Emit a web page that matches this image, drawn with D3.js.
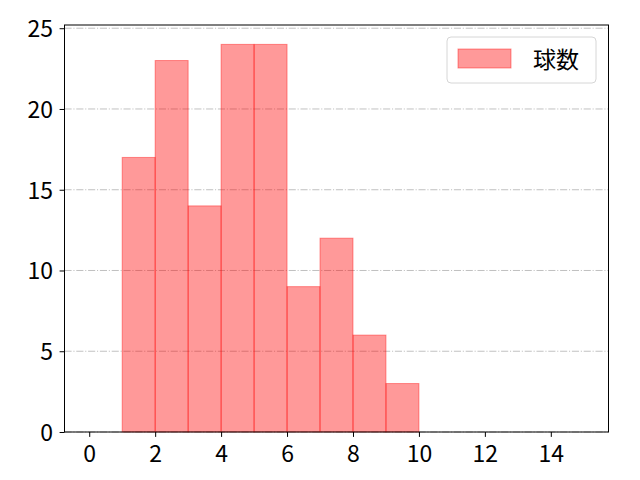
<!DOCTYPE html>
<html><head><meta charset="utf-8">
<script src="https://cdn.jsdelivr.net/npm/d3@7"></script>
<style>body{margin:0;background:#fff}svg{display:block}text{font-family:"Noto Sans CJK JP","DejaVu Sans",sans-serif}</style>
</head><body><svg id="c" width="640" height="480"></svg>
<script>
const binStarts = [0,1,2,3,4,5,6,7,8,9,10,11,12,13,14];
const counts    = [0,17,23,14,24,24,9,12,6,3,0,0,0,0,0];
const xTicks = [0,2,4,6,8,10,12,14];
const yTicks = [0,5,10,15,20,25];
const seriesName = "球数";

const svg = d3.select("#c");
const L=64.5,R=608.5,T=25,B=432;
const x = d3.scaleLinear().domain([-0.75,15.75]).range([L,R]);
const y = d3.scaleLinear().domain([0,25.2]).range([B,T]);

// grid
svg.append("g").selectAll("line").data(yTicks).join("line")
  .attr("x1",L).attr("x2",R).attr("y1",d=>y(d)).attr("y2",d=>y(d))
  .attr("stroke","#b0b0b0").attr("stroke-width",0.8)
  .attr("stroke-dasharray","7.1,1.8,1.1,1.8");

// bars
svg.append("g").selectAll("rect").data(binStarts.map((s,i)=>({s,c:counts[i]}))).join("rect")
  .attr("x",d=>x(d.s)).attr("width",d=>x(d.s+1)-x(d.s))
  .attr("y",d=>y(d.c)).attr("height",d=>y(0)-y(d.c))
  .attr("fill","rgba(255,0,0,0.4)").attr("stroke","rgba(255,0,0,0.4)").attr("stroke-width",1);

// axes
const xa = svg.append("g").attr("transform",`translate(0,${B})`)
  .call(d3.axisBottom(x).tickValues(xTicks).tickSize(4.9).tickPadding(5).tickSizeOuter(0));
const ya = svg.append("g").attr("transform",`translate(${L},0)`)
  .call(d3.axisLeft(y).tickValues(yTicks).tickSize(4.9).tickPadding(6.5).tickSizeOuter(0));
[xa,ya].forEach(a=>{a.select(".domain").remove();a.selectAll("line").attr("stroke","#000").attr("stroke-width",1);
  a.selectAll("text").attr("font-size",23).attr("fill","#000").attr("font-family",null);});
xa.selectAll("text").attr("dy","0.88em");
ya.selectAll("text").attr("dy","0.36em");
svg.append("rect").attr("x",L).attr("y",T).attr("width",R-L).attr("height",B-T)
  .attr("fill","none").attr("stroke","#000").attr("stroke-width",1);

// legend
const lg = svg.append("g");
lg.append("rect").attr("x",447).attr("y",37).attr("width",149).attr("height",46).attr("rx",4)
  .attr("fill","rgba(255,255,255,0.8)").attr("stroke","#d6d6d6").attr("stroke-width",1);
lg.append("rect").attr("x",458).attr("y",49).attr("width",53).attr("height",19)
  .attr("fill","rgba(255,0,0,0.4)").attr("stroke","rgba(255,0,0,0.4)").attr("stroke-width",1);
lg.append("text").attr("x",533).attr("y",67.5).attr("font-size",23).attr("fill","#000").text(seriesName);
</script></body></html>
